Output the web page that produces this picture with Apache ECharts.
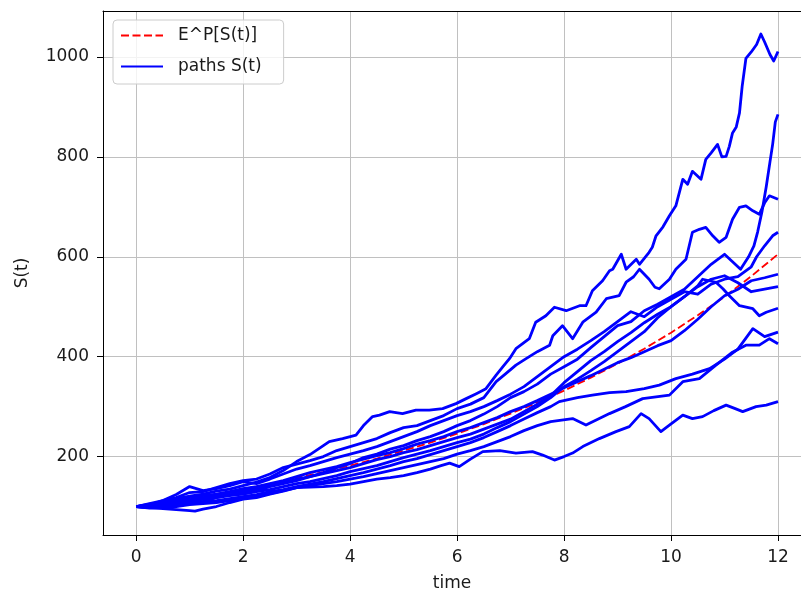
<!DOCTYPE html>
<html><head><meta charset="utf-8">
<script src="https://cdn.jsdelivr.net/npm/echarts@6/dist/echarts.min.js"></script>
<style>html,body{margin:0;padding:0;background:#fff}#c{width:801px;height:597px}</style>
</head><body><div id="c"></div>
<script>
const xTicks=[0,2,4,6,8,10,12];
const yTicks=[200,400,600,800,1000];
const expectedT=[0,0.5,1,1.5,2,2.5,3,3.5,4,4.5,5,5.5,6,6.5,7,7.5,8,8.5,9,9.5,10,10.5,11,11.5,12];
const expectedV=[100,108,116,125,135,145,157,169,182,196,212,228,246,265,286,308,332,358,386,416,448,483,520,561,605];
const pathA=[[0,100],[0.25,104],[0.5,110],[0.75,116],[1,121],[1.25,125],[1.5,131],[1.75,135],[2,142],[2.25,149],[2.5,158],[2.75,172],[3,190],[3.25,204],[3.5,222],[3.61,230],[3.86,236],[4.11,243],[4.25,262],[4.42,280],[4.55,283],[4.74,290],[4.98,286],[5.23,293],[5.48,293],[5.73,296],[5.98,306],[6.17,316],[6.36,326],[6.54,336],[6.73,363],[6.88,383],[6.98,396],[7.1,416],[7.35,436],[7.47,469],[7.66,482],[7.82,499],[8.04,492],[8.29,502],[8.41,502],[8.53,532],[8.72,552],[8.85,572],[8.91,575],[9.07,605],[9.16,575],[9.35,595],[9.41,585],[9.59,609],[9.65,619],[9.72,642],[9.85,660],[9.97,682],[10.09,702],[10.22,755],[10.31,745],[10.4,771],[10.56,755],[10.65,795],[10.75,808],[10.87,825],[10.95,800],[11.03,801],[11.09,821],[11.15,848],[11.22,860],[11.28,888],[11.33,941],[11.4,997],[11.5,1010],[11.6,1025],[11.68,1046],[11.75,1030],[11.85,1005],[11.92,992],[12,1011]];
const pathB=[[0,100],[0.25,98],[0.5,103],[0.75,108],[1,112],[1.25,110],[1.5,118],[1.75,124],[2,128],[2.25,132],[2.5,140],[2.75,146],[3,152],[3.25,160],[3.5,168],[3.75,178],[4,186],[4.25,198],[4.5,205],[4.75,215],[5,222],[5.25,232],[5.5,240],[5.75,250],[6,262],[6.25,272],[6.5,285],[6.75,300],[7,318],[7.25,330],[7.5,345],[7.75,365],[8,380],[8.25,395],[8.5,418],[8.75,440],[9,462],[9.25,470],[9.5,492],[9.75,505],[10,520],[10.25,535],[10.5,560],[10.75,585],[11,605],[11.15,590],[11.3,575],[11.45,600],[11.55,622],[11.62,650],[11.7,690],[11.78,740],[11.85,790],[11.9,825],[11.95,870],[12,885]];
const pathC=[[0,100],[0.25,106],[0.5,112],[0.75,118],[1,128],[1.25,130],[1.5,138],[1.75,146],[2,152],[2.25,155],[2.5,165],[2.75,178],[3,185],[3.25,192],[3.5,200],[3.75,212],[4,220],[4.25,228],[4.5,236],[4.75,248],[5,258],[5.25,262],[5.5,272],[5.75,282],[6,296],[6.25,305],[6.5,318],[6.73,350],[6.9,365],[7.1,383],[7.29,396],[7.5,410],[7.73,423],[7.79,442],[7.97,462],[8.16,436],[8.35,469],[8.6,489],[8.79,516],[9.03,522],[9.16,549],[9.3,560],[9.41,575],[9.59,555],[9.7,539],[9.78,536],[9.97,555],[10.09,575],[10.28,595],[10.4,649],[10.53,655],[10.65,659],[10.78,642],[10.9,629],[11.03,639],[11.15,675],[11.28,699],[11.4,702],[11.53,692],[11.65,685],[11.75,708],[11.84,722],[12,715]];
const pathD=[[0,100],[0.25,103],[0.5,112],[0.75,124],[1,140],[1.25,132],[1.5,136],[1.75,142],[2,150],[2.25,146],[2.5,155],[2.75,165],[3,175],[3.25,182],[3.5,190],[3.75,198],[4,205],[4.25,212],[4.5,220],[4.75,230],[5,240],[5.25,250],[5.5,262],[5.75,272],[6,282],[6.25,290],[6.5,300],[6.75,312],[7,325],[7.25,340],[7.5,360],[7.75,380],[8,400],[8.25,415],[8.5,432],[8.75,450],[9,470],[9.25,490],[9.5,480],[9.75,500],[10,515],[10.25,530],[10.5,525],[10.75,545],[11,555],[11.25,560],[11.5,580],[11.6,600],[11.75,622],[11.9,642],[12,649]];
const pathE=[[0,100],[0.25,105],[0.5,108],[0.75,112],[1,118],[1.25,122],[1.5,125],[1.75,130],[2,136],[2.25,140],[2.5,146],[2.75,152],[3,160],[3.25,168],[3.5,174],[3.75,180],[4,188],[4.25,195],[4.5,202],[4.75,208],[5,216],[5.25,225],[5.5,232],[5.75,240],[6,250],[6.25,258],[6.5,268],[6.75,278],[7,290],[7.25,300],[7.5,312],[7.75,325],[8,338],[8.25,350],[8.5,362],[8.75,375],[9,388],[9.25,398],[9.5,410],[9.75,422],[10,432],[10.25,452],[10.5,475],[10.75,500],[11,522],[11.25,535],[11.5,552],[11.75,558],[12,565]];
const pathF=[[0,100],[0.25,101],[0.5,104],[0.75,106],[1,110],[1.25,115],[1.5,118],[1.75,122],[2,125],[2.25,130],[2.5,134],[2.75,140],[3,146],[3.25,150],[3.5,156],[3.75,162],[4,170],[4.25,176],[4.5,182],[4.75,190],[5,198],[5.25,205],[5.5,212],[5.75,220],[6,228],[6.25,235],[6.5,245],[6.75,258],[7,270],[7.25,285],[7.5,300],[7.75,318],[8,340],[8.25,355],[8.5,372],[8.75,390],[9,410],[9.25,430],[9.5,450],[9.75,478],[10,500],[10.25,520],[10.5,540],[10.75,555],[11,562],[11.25,548],[11.5,530],[11.75,535],[12,540]];
const pathG=[[0,100],[0.25,102],[0.5,106],[0.75,110],[1,114],[1.25,118],[1.5,122],[1.75,128],[2,132],[2.25,136],[2.5,142],[2.75,148],[3,155],[3.25,160],[3.5,166],[3.75,172],[4,178],[4.25,186],[4.5,194],[4.75,200],[5,208],[5.25,214],[5.5,222],[5.75,230],[6,238],[6.25,245],[6.5,255],[6.75,265],[7,275],[7.25,290],[7.5,305],[7.75,322],[8,348],[8.25,370],[8.5,392],[8.75,410],[9,430],[9.25,448],[9.5,468],[9.75,485],[10,500],[10.25,520],[10.5,542],[10.59,555],[10.84,549],[10.97,536],[11.09,522],[11.28,502],[11.53,496],[11.65,482],[11.78,489],[12,497]];
const pathH=[[0,100],[0.25,98],[0.5,100],[0.75,104],[1,106],[1.25,110],[1.5,112],[1.75,116],[2,120],[2.25,124],[2.5,130],[2.75,134],[3,140],[3.25,145],[3.5,150],[3.75,156],[4,162],[4.25,168],[4.5,175],[4.75,182],[5,190],[5.25,196],[5.5,204],[5.75,212],[6,220],[6.25,228],[6.5,238],[6.75,250],[7,262],[7.25,275],[7.5,288],[7.75,300],[7.91,310],[8.25,318],[8.53,323],[8.85,328],[9.16,330],[9.5,336],[9.78,343],[10.09,356],[10.4,365],[10.72,376],[11,395],[11.25,415],[11.53,456],[11.75,440],[12,449]];
const pathI=[[0,100],[0.25,97],[0.5,98],[0.75,100],[1,104],[1.25,106],[1.5,108],[1.75,112],[2,118],[2.25,120],[2.5,126],[2.75,132],[3,138],[3.25,142],[3.5,146],[3.75,150],[4,155],[4.25,160],[4.5,166],[4.75,172],[5,178],[5.25,184],[5.5,190],[5.75,196],[6,205],[6.25,212],[6.5,220],[6.75,230],[7,240],[7.25,252],[7.5,262],[7.75,270],[8.16,276],[8.41,263],[8.85,286],[9.15,300],[9.47,316],[9.97,323],[10.22,350],[10.53,356],[10.84,383],[11.15,409],[11.4,423],[11.65,423],[11.84,436],[12,426]];
const pathJ=[[0,100],[0.25,98],[0.5,96],[0.75,94],[1,92],[1.1,91],[1.25,95],[1.5,100],[1.75,108],[2,115],[2.25,118],[2.5,125],[2.75,131],[3,138],[3.25,139],[3.5,140],[3.75,142],[4,145],[4.25,150],[4.5,155],[4.75,158],[5,162],[5.25,168],[5.5,175],[5.7,182],[5.86,187],[6.04,180],[6.25,195],[6.48,210],[6.8,212],[7.1,207],[7.41,210],[7.6,203],[7.82,193],[8,200],[8.16,207],[8.35,220],[8.66,236],[8.97,250],[9.22,260],[9.44,286],[9.59,276],[9.81,250],[9.97,263],[10.22,283],[10.4,276],[10.59,280],[10.8,292],[11.03,303],[11.2,296],[11.34,290],[11.59,300],[11.78,303],[12,310]];
const paths=[pathA,pathB,pathC,pathD,pathE,pathF,pathG,pathH,pathI,pathJ];

const font='DejaVu Sans';
const txt='#1a1a1a';
const chart=echarts.init(document.getElementById('c'),null,{renderer:'canvas'});
const series=[{
  name:'E^P[S(t)]',type:'line',symbol:'none',xAxisIndex:0,
  data:expectedT.map((t,i)=>[t,expectedV[i]]),
  lineStyle:{color:'#ff0000',width:1.8,type:[8,3.5]},itemStyle:{color:'#ff0000'},z:2
}];
paths.forEach(p=>series.push({
  name:'paths S(t)',type:'line',symbol:'none',data:p,xAxisIndex:0,
  lineStyle:{color:'#0000ff',width:2.8,join:'round'},itemStyle:{color:'#0000ff'},z:3
}));
const X_MIN=-0.62, X_MAX=12.43;
chart.setOption({
  animation:false,
  backgroundColor:'#fff',
  grid:{left:103,top:11,right:0,bottom:60,show:false},
  xAxis:[{type:'value',min:X_MIN,max:X_MAX,position:'bottom',
    name:'time',nameLocation:'middle',nameGap:40,
    nameTextStyle:{fontFamily:font,fontSize:17,color:txt},
    axisLine:{show:true,onZero:false,lineStyle:{color:'#000',width:1}},
    axisTick:{show:true,length:6,customValues:xTicks,lineStyle:{color:'#000'}},
    axisLabel:{customValues:xTicks,margin:14,fontFamily:font,fontSize:17,color:txt,formatter:v=>String(v)},
    splitLine:{show:true,lineStyle:{color:'#c0c0c0',width:1}}},
   {type:'value',min:X_MIN,max:X_MAX,position:'top',
    axisLine:{show:true,onZero:false,lineStyle:{color:'#000',width:1}},
    axisTick:{show:false},axisLabel:{show:false},splitLine:{show:false}}],
  yAxis:{type:'value',min:43,max:1092,
    name:'S(t)',nameLocation:'middle',nameGap:72,nameRotate:90,
    nameTextStyle:{fontFamily:font,fontSize:17,color:txt},
    axisLine:{show:true,onZero:false,lineStyle:{color:'#000',width:1}},
    axisTick:{show:true,length:6,customValues:yTicks,lineStyle:{color:'#000'}},
    axisLabel:{customValues:yTicks,margin:14,fontFamily:font,fontSize:17,color:txt,formatter:v=>String(v)},
    splitLine:{show:true,lineStyle:{color:'#c0c0c0',width:1}}},
  legend:{data:['E^P[S(t)]','paths S(t)'],orient:'vertical',left:113,top:20,
    itemWidth:42,itemHeight:14,itemGap:14,padding:[7,22,9,7],
    itemStyle:{opacity:0},
    backgroundColor:'rgba(255,255,255,0.8)',borderColor:'#cccccc',borderWidth:1,borderRadius:4,
    textStyle:{fontFamily:font,fontSize:17,color:txt,padding:[0,0,0,10]}},
  series:series
});
</script></body></html>
